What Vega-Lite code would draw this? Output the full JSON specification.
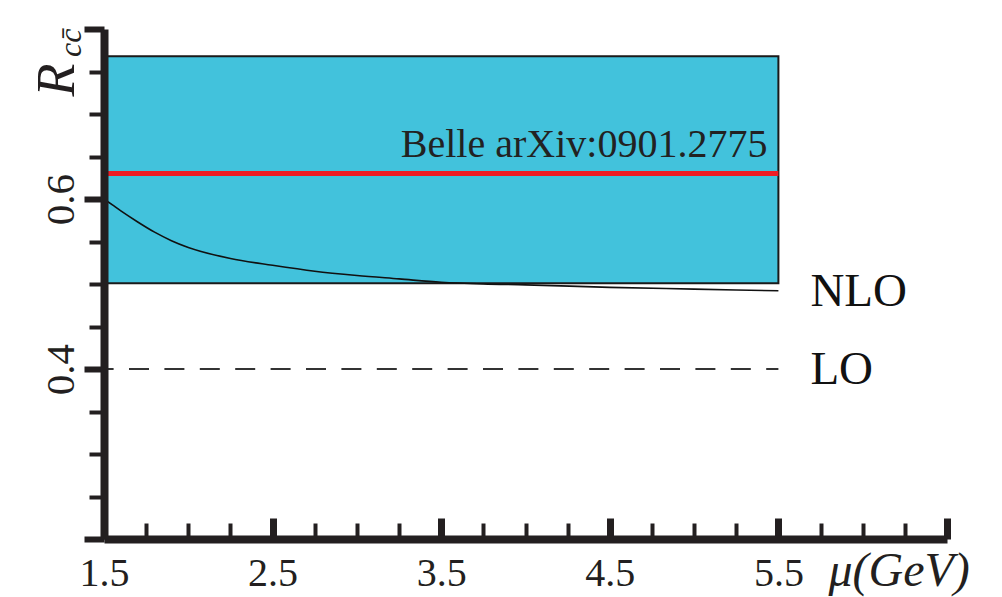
{
  "$schema": "https://vega.github.io/schema/vega-lite/v6.json",
  "width": 843,
  "height": 510,
  "autosize": {"type": "none"},
  "padding": {"left": 104, "top": 29, "right": 55, "bottom": 58},
  "background": "white",
  "config": {"view": {"stroke": null}, "font": "Liberation Serif"},
  "encoding": {
    "x": {
      "field": "x", "type": "quantitative",
      "scale": {"domain": [1.5, 6.5], "nice": false, "zero": false},
      "axis": {
        "values": [1.5, 1.75, 2, 2.25, 2.5, 2.75, 3, 3.25, 3.5, 3.75, 4, 4.25, 4.5, 4.75, 5, 5.25, 5.5, 5.75, 6, 6.25, 6.5],
        "grid": false, "zindex": 2,
        "domainColor": "#231f20", "domainWidth": 8,
        "tickColor": "#231f20",
        "tickSize": {"condition": {"test": "abs((datum.value - 0.5) - round(datum.value - 0.5)) < 0.01", "value": -21}, "value": -16},
        "tickWidth": {"condition": {"test": "abs((datum.value - 0.5) - round(datum.value - 0.5)) < 0.01", "value": 7}, "value": 4},
        "labelExpr": "abs((datum.value - 0.5) - round(datum.value - 0.5)) < 0.01 && datum.value < 6 ? format(datum.value, '.1f') : ''",
        "labelFont": "Liberation Serif", "labelFontSize": 40, "labelColor": "#231f20",
        "labelPadding": 67, "labelBaseline": "alphabetic", "labelAlign": "center",
        "labelFlush": false, "labelOverlap": false, "labelAngle": 0,
        "title": "μ(GeV)", "titleFont": "Liberation Serif", "titleFontStyle": "italic", "titleFontWeight": "normal",
        "titleFontSize": 48, "titleColor": "#231f20", "titleAlign": "left", "titleBaseline": "alphabetic",
        "titleX": 724, "titleY": 46
      }
    },
    "y": {
      "field": "y", "type": "quantitative",
      "scale": {"domain": [0.2, 0.8], "nice": false, "zero": false},
      "axis": {
        "values": [0.2, 0.25, 0.3, 0.35, 0.4, 0.45, 0.5, 0.55, 0.6, 0.65, 0.7, 0.75, 0.8],
        "grid": false, "zindex": 2,
        "domainColor": "#231f20", "domainWidth": 8,
        "tickColor": "#231f20",
        "tickSize": {"condition": {"test": "abs(datum.value * 5 - round(datum.value * 5)) < 0.01", "value": 20}, "value": 15},
        "tickWidth": {"condition": {"test": "abs(datum.value * 5 - round(datum.value * 5)) < 0.01", "value": 6}, "value": 4},
        "labelExpr": "abs(datum.value * 5 - round(datum.value * 5)) < 0.01 && datum.value > 0.3 && datum.value < 0.7 ? format(datum.value, '.1f') : ''",
        "labelFont": "Liberation Serif", "labelFontSize": 41, "labelColor": "#231f20",
        "labelAngle": 270, "labelAlign": "center", "labelBaseline": "alphabetic", "labelPadding": 11,
        "labelFlush": false, "labelOverlap": false,
        "title": "R", "titleFont": "Liberation Serif", "titleFontStyle": "italic", "titleFontWeight": "normal",
        "titleFontSize": 54, "titleColor": "#231f20", "titleAngle": 270, "titleAlign": "left", "titleBaseline": "alphabetic",
        "titleX": -31, "titleY": 67
      }
    }
  },
  "layer": [
    {
      "data": {"values": [{"x": 1.5, "x2": 5.5, "y": 0.501, "y2": 0.768}]},
      "mark": {"type": "rect", "fill": "#42c2dc", "stroke": "#1a1a1a", "strokeWidth": 2},
      "encoding": {"x2": {"field": "x2"}, "y2": {"field": "y2"}}
    },
    {
      "data": {"values": [{"x": 1.5, "x2": 5.5, "y": 0.63}]},
      "mark": {"type": "rule", "color": "#ed1c24", "strokeWidth": 5},
      "encoding": {"x2": {"field": "x2"}}
    },
    {
      "data": {"values": [
        {"x": 1.5, "y": 0.6}, {"x": 1.55, "y": 0.593}, {"x": 1.6, "y": 0.586}, {"x": 1.7, "y": 0.573},
        {"x": 1.8, "y": 0.561}, {"x": 1.9, "y": 0.551}, {"x": 2.0, "y": 0.543}, {"x": 2.25, "y": 0.53},
        {"x": 2.5, "y": 0.522}, {"x": 2.75, "y": 0.515}, {"x": 3.0, "y": 0.51}, {"x": 3.25, "y": 0.506},
        {"x": 3.5, "y": 0.502}, {"x": 3.75, "y": 0.5}, {"x": 4.0, "y": 0.499}, {"x": 4.5, "y": 0.496},
        {"x": 5.0, "y": 0.494}, {"x": 5.5, "y": 0.492}
      ]},
      "mark": {"type": "line", "color": "#111111", "strokeWidth": 1.6, "interpolate": "monotone"}
    },
    {
      "data": {"values": [{"x": 1.5, "x2": 5.5, "y": 0.4}]},
      "mark": {"type": "rule", "color": "#333333", "strokeWidth": 2, "strokeDash": [20, 15.4], "strokeDashOffset": 10.4},
      "encoding": {"x2": {"field": "x2"}}
    },
    {
      "data": {"values": [{"x": 5.5, "y": 0.63, "label": "Belle arXiv:0901.2775"}]},
      "mark": {"type": "text", "align": "right", "baseline": "alphabetic", "dx": -11, "dy": -17, "font": "Liberation Serif", "fontSize": 40, "color": "#222222"},
      "encoding": {"text": {"field": "label"}}
    },
    {
      "data": {"values": [{"x": 5.5, "y": 0.492, "label": "NLO"}, {"x": 5.5, "y": 0.4, "label": "LO"}]},
      "mark": {"type": "text", "align": "left", "baseline": "middle", "dx": 32, "dy": 1, "font": "Liberation Serif", "fontSize": 47, "color": "#111111"},
      "encoding": {"text": {"field": "label"}}
    },
    {
      "data": {"values": [{"x": 1.5, "y": 0.8, "label": "cc̄"}]},
      "mark": {"type": "text", "align": "left", "baseline": "alphabetic", "angle": 270, "dx": -28, "dy": -23, "font": "Liberation Serif", "fontStyle": "italic", "fontSize": 32, "color": "#231f20"},
      "encoding": {"text": {"field": "label"}}
    }
  ]
}
